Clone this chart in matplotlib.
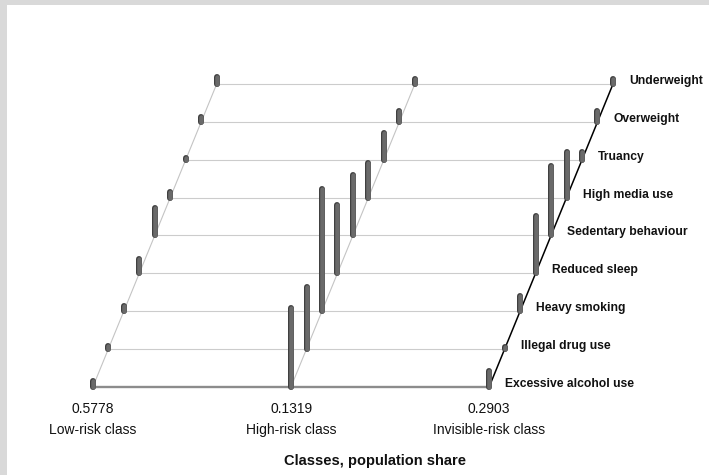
import matplotlib
matplotlib.use("Agg")
import matplotlib.pyplot as plt
import matplotlib.patheffects as pe
from matplotlib import font_manager
from matplotlib.patches import Rectangle

# indicators from the front row (bottom) to the back row (top)
indicators = ["Excessive alcohol use", "Illegal drug use", "Heavy smoking",
              "Reduced sleep", "Sedentary behaviour", "High media use",
              "Truancy", "Overweight", "Underweight"]

class_names = ["Low-risk class", "High-risk class", "Invisible-risk class"]
class_shares = ["0.5778", "0.1319", "0.2903"]

# item-response probabilities per class, same order as indicators
low_risk = [0.04, 0.02, 0.04, 0.10, 0.20, 0.04, 0.01, 0.04, 0.05]
high_risk = [0.56, 0.44, 0.87, 0.49, 0.43, 0.25, 0.19, 0.08, 0.04]
invisible_risk = [0.11, 0.01, 0.11, 0.41, 0.50, 0.33, 0.06, 0.08, 0.04]

profiles = [low_risk, high_risk, invisible_risk]

shear = 0.078      # sideways shift of each row (pseudo-3D depth)
bar_scale = 3.7    # rows per unit of probability

names = {f.name for f in font_manager.fontManager.ttflist}
if "Liberation Sans Narrow" in names:
    label_font, label_size = "Liberation Sans Narrow", 10.2
else:
    label_font, label_size = "Liberation Sans", 8.7

fig = plt.figure(figsize=(7.09, 4.75), dpi=100)
fig.patch.set_facecolor("white")
ax = fig.add_axes([0, 0, 1, 1])
ax.set_xlim(-0.469, 3.109)
ax.set_ylim(-2.336, 10.23)
ax.axis("off")

# grey frame on the top and left
fig.add_artist(Rectangle((0, 0), 7 / 709, 1, transform=fig.transFigure,
                         color="#d9d9d9", lw=0))
fig.add_artist(Rectangle((0, 1 - 5 / 475), 1, 5 / 475, transform=fig.transFigure,
                         color="#d9d9d9", lw=0))

n = len(indicators)
top = n - 1

# row lines
for r in range(n):
    if r == 0:
        ax.plot([0, 2], [0, 0], color="#8c8c8c", lw=1.7, zorder=1)
    else:
        ax.plot([r * shear, 2 + r * shear], [r, r], color="#cccccc", lw=0.8, zorder=1)

# slanted class axes
for c in range(3):
    col, lw = ("black", 1.1) if c == 2 else ("#c4c4c4", 0.8)
    ax.plot([c, c + top * shear], [0, top], color=col, lw=lw, zorder=2)

# probability bars
for c, probs in enumerate(profiles):
    for r, p in enumerate(probs):
        x = c + r * shear
        ax.plot([x, x], [r, r + p * bar_scale], color="#6a6a6a", lw=3.3,
                solid_capstyle="round", zorder=3,
                path_effects=[pe.Stroke(linewidth=4.3, foreground="#3d3d3d"),
                              pe.Normal()])

# indicator labels along the last axis
for r, name in enumerate(indicators):
    ax.text(2 + r * shear + 0.081, r + 0.08, name, ha="left", va="center",
            fontsize=label_size, fontweight="bold", family=label_font,
            color="#111111")

# class shares and names under the front row
for c in range(3):
    ax.text(c, -0.598, class_shares[c], ha="center", va="center",
            fontsize=10, family="Liberation Sans", color="#111111")
    ax.text(c, -1.146, class_names[c], ha="center", va="center",
            fontsize=10, family="Liberation Sans", color="#111111")

ax.text(1.423, -1.966, "Classes, population share", ha="center", va="center",
        fontsize=10.5, fontweight="bold", family="Liberation Sans", color="#111111")

fig.savefig("out.png", dpi=100)
